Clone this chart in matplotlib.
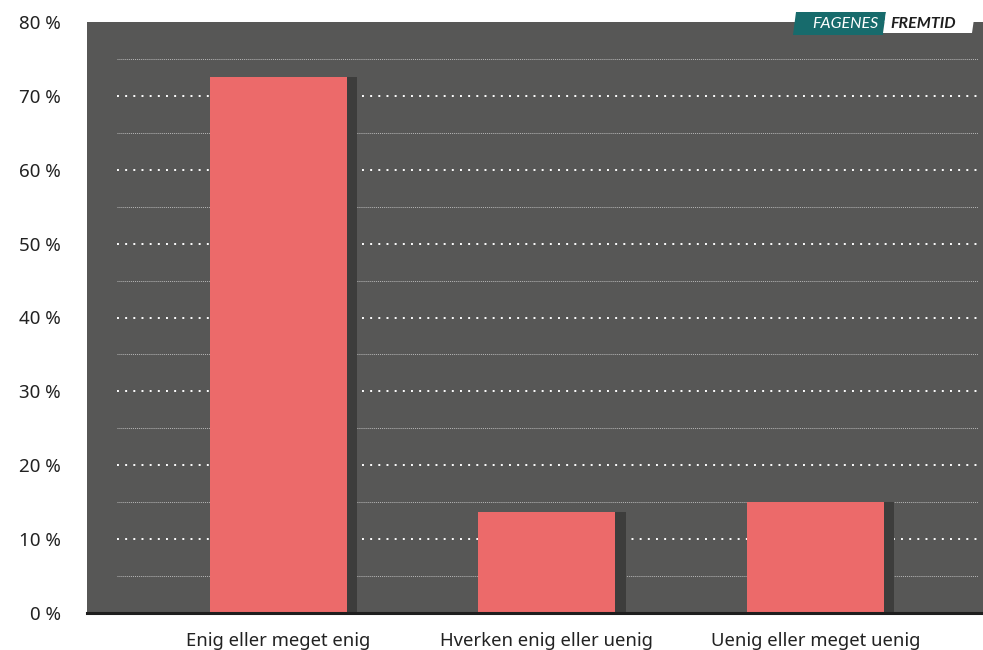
import matplotlib
matplotlib.use("Agg")
from matplotlib import pyplot as plt
from matplotlib.patches import Polygon

categories = ["Enig eller meget enig", "Hverken enig eller uenig", "Uenig eller meget uenig"]
values = [72.6, 13.7, 15.0]
yticks = [0, 10, 20, 30, 40, 50, 60, 70, 80]
ytick_labels = ["%d %%" % t for t in yticks]

bg = "#575756"
bar_color = "#ec6a6a"
shadow_color = "#3d3d3c"

plt.rcParams["font.family"] = ["Noto Sans", "DejaVu Sans"]

W, H = 983, 650
fig = plt.figure(figsize=(W / 100, H / 100), dpi=100)
ax = fig.add_axes([87 / W, 37 / H, 896 / W, 591 / H])
ax.set_facecolor(bg)

x = list(range(len(categories)))
bw = 0.51
shadow = 0.039

# shadow first, then the bar on top of it
ax.bar([i - bw / 2 for i in x], values, width=bw + shadow, align="edge",
       color=shadow_color, zorder=2)
ax.bar(x, values, width=bw, color=bar_color, zorder=3)

# grid: dotted white at every 10 %, fine grey at the halves
gx0, gx1 = -0.601, 2.605
ax.hlines([t for t in yticks[1:-1]], gx0, gx1, colors="white",
          linewidth=1.4, linestyles=(0, (1, 3.2)), zorder=1)
ax.hlines([t + 5 for t in yticks[:-1]], gx0, gx1, colors="#b8b8b8",
          linewidth=0.7, linestyles=(0, (1, 1)), zorder=1)

ax.set_xlim(-0.713, 2.624)
ax.set_ylim(0, 80)
ax.set_yticks(yticks)
ax.set_yticklabels(ytick_labels, fontsize=13.5, color="#222222")
ax.set_xticks(x)
ax.set_xticklabels(categories, fontsize=13.3, color="#222222")
ax.tick_params(axis="both", length=0)
ax.tick_params(axis="y", pad=19)
ax.tick_params(axis="x", pad=14)

for s in ["top", "right", "left"]:
    ax.spines[s].set_visible(False)
ax.spines["bottom"].set_color("#1e1e1e")
ax.spines["bottom"].set_linewidth(2.2)
ax.spines["bottom"].set_zorder(5)


def px(pts):
    return [(a / W, 1 - b / H) for a, b in pts]


teal = Polygon(px([(793, 35), (796, 12), (886, 12), (883, 35)]),
               closed=True, transform=fig.transFigure, facecolor="#176b6c",
               edgecolor="none", zorder=10)
white = Polygon(px([(883, 33), (886, 12), (975, 12), (972, 33)]),
                closed=True, transform=fig.transFigure, facecolor="white",
                edgecolor="none", zorder=10)
fig.patches.extend([teal, white])
fig.text(878 / W, 1 - 23.5 / H, "FAGENES", color="white", fontsize=11.5,
         family=["Lato", "DejaVu Sans"], style="italic",
         ha="right", va="center", zorder=11)
fig.text(890 / W, 1 - 23.5 / H, "FREMTID", color="#1e1e1e", fontsize=11.5,
         family=["Lato", "DejaVu Sans"], style="italic", weight="bold",
         ha="left", va="center", zorder=11)

fig.savefig("out.png", dpi=100)
